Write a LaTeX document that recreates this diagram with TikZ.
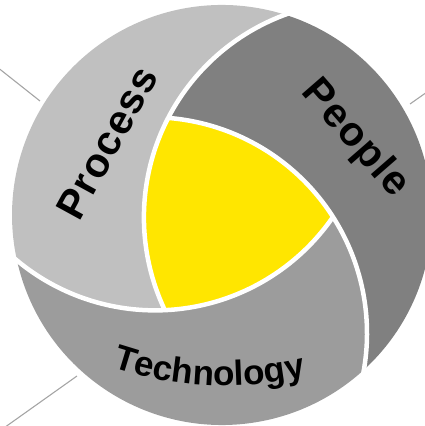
\documentclass[tikz,border=0pt]{standalone}
\usepackage{fontspec}
\setmainfont{Liberation Sans}
\usetikzlibrary{decorations.text}

\definecolor{processgray}{RGB}{192,192,192}
\definecolor{peoplegray}{RGB}{128,128,128}
\definecolor{techgray}{RGB}{156,156,156}
\definecolor{coreyellow}{HTML}{FFE600}
\definecolor{leadgray}{RGB}{165,165,165}

% letter spacing for the tracked labels
\newcommand\ls{\kern1.2pt}

\tikzset{
  % one iris blade: outer rim, neighbouring blade edge, own edge
  blade/.style={insert path={
    (72.5:210) arc[start angle=72.5, end angle=192.5, radius=210]
    arc[start angle=230.27, end angle=272.58, radius=216.08]
    arc[start angle=205.42, end angle=110.27, radius=216.08] -- cycle}},
  separator/.style={draw=white, line width=4.5pt},
  leader/.style={draw=leadgray, line width=1.1pt},
  lbl/.style={font=\bfseries\fontsize{41}{41}\selectfont, text=black, inner sep=0pt}
}

\begin{document}
\begin{tikzpicture}[x=1pt, y=1pt]
  \useasboundingbox (-222,-211) rectangle (203,215);

  % leader lines running off the page
  \coordinate (l1a) at (-230,152);
  \coordinate (l1b) at (-182,114);
  \coordinate (l2a) at (188,111);
  \coordinate (l2b) at (215,130);
  \coordinate (l3a) at (-145,-161);
  \coordinate (l3b) at (-228,-220);
  \draw[leader] (l1a) -- (l1b);
  \draw[leader] (l2a) -- (l2b);
  \draw[leader] (l3a) -- (l3b);

  % the three blades
  \fill[processgray, blade];
  \begin{scope}[rotate=-120]
    \fill[peoplegray, blade];
  \end{scope}
  \begin{scope}[rotate=120]
    \fill[techgray, blade];
  \end{scope}

  % centre
  \fill[coreyellow] (239:111)
    arc[start angle=205.42, end angle=152.58, radius=216.08]
    arc[start angle=85.42, end angle=32.58, radius=216.08]
    arc[start angle=325.42, end angle=272.58, radius=216.08] -- cycle;

  % white blade edges
  \foreach \k in {0,120,240}{
    \begin{scope}[rotate=\k]
      \draw[separator] (239:111) arc[start angle=205.42, end angle=106, radius=216.08];
    \end{scope}
  }

  % labels
  \node[lbl, rotate=61.3] (process) at (-115,72) {P\ls r\ls o\ls c\ls e\ls s\ls s};
  \node[lbl, rotate=-49] (people) at (133,76) {P\ls e\ls o\ls p\ls l\ls e};
  \path[decorate, decoration={text along path, text align=center,
      text={|\bfseries\fontsize{35}{35}\selectfont|Technology}}]
    (3,179) ++(237.3:350) arc[start angle=237.3, end angle=297.3, radius=350];
\end{tikzpicture}
\end{document}
